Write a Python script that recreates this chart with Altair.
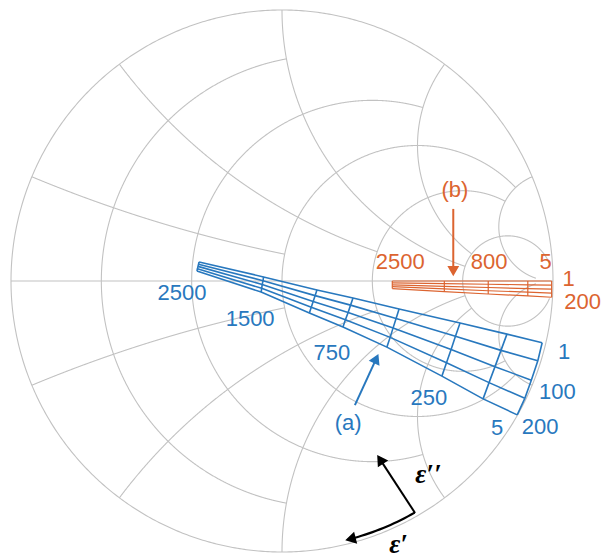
import math
import numpy as np
import pandas as pd
import altair as alt

alt.data_transformers.disable_max_rows()

# ---- Smith chart grid: constant-resistance circles / constant-reactance arcs ----
GRID_VALUES = [0.2, 0.5, 1.0, 2.0, 5.0]
GRID_LIMITS = [1.0, 2.0, 5.0, 5.0, 30.0]

# ---- Mesh (a): reflection coefficient (real, imag); rows = long lines, cols = cross lines ----
A_ROW_LABELS = ["1", "", "100", "", "200"]
A_COL_LABELS = ["2500", "1500", "", "750", "", "250", "", "5"]
A_RE = [
    [-0.306, -0.068, 0.129, 0.262, 0.432, 0.657, 0.830, 0.960],
    [-0.308, -0.070, 0.122, 0.253, 0.421, 0.640, 0.808, 0.944],
    [-0.310, -0.073, 0.115, 0.244, 0.410, 0.624, 0.786, 0.920],
    [-0.312, -0.075, 0.108, 0.234, 0.399, 0.607, 0.764, 0.896],
    [-0.314, -0.077, 0.101, 0.225, 0.387, 0.590, 0.742, 0.868],
]
A_IM = [
    [0.070, 0.015, -0.033, -0.063, -0.103, -0.155, -0.196, -0.228],
    [0.062, 0.001, -0.054, -0.089, -0.138, -0.204, -0.256, -0.294],
    [0.054, -0.013, -0.076, -0.116, -0.173, -0.253, -0.316, -0.366],
    [0.045, -0.027, -0.097, -0.143, -0.208, -0.302, -0.375, -0.433],
    [0.037, -0.041, -0.118, -0.170, -0.244, -0.351, -0.435, -0.494],
]

# ---- Mesh (b) ----
B_ROW_LABELS = ["1", "", "", "", "200"]
B_COL_LABELS = ["2500", "", "800", "", "5"]
B_RE = [
    [0.407, 0.599, 0.761, 0.907, 0.995],
    [0.407, 0.599, 0.761, 0.907, 0.995],
    [0.407, 0.599, 0.761, 0.907, 0.995],
    [0.407, 0.599, 0.761, 0.907, 0.995],
    [0.407, 0.599, 0.761, 0.907, 0.995],
]
B_IM = [
    [0.000, 0.000, 0.000, 0.000, 0.000],
    [-0.007, -0.010, -0.012, -0.014, -0.015],
    [-0.014, -0.020, -0.024, -0.028, -0.030],
    [-0.021, -0.029, -0.036, -0.041, -0.045],
    [-0.028, -0.039, -0.048, -0.055, -0.060],
]

BLUE = "#2878BE"
ORANGE = "#DC6430"
GRAY = "#c2c2c2"
FONT = "Liberation Sans"
R_PX = 271.0  # plot radius in pixels (unit circle)

X = alt.X("gx:Q", scale=alt.Scale(domain=[-1, 1], nice=False, zero=False), axis=None)
Y = alt.Y("gy:Q", scale=alt.Scale(domain=[-1, 1], nice=False, zero=False), axis=None)


def gamma(z):
    g = (z - 1) / (z + 1)
    return g.real, g.imag


# ---- build grid paths ----
grid_rows = []


def add_path(name, gx, gy, store):
    for k, (a, b) in enumerate(zip(gx, gy)):
        store.append({"path": name, "seq": k, "gx": float(a), "gy": float(b)})


t = np.linspace(0, 2 * np.pi, 721)
add_path("outer", np.cos(t), np.sin(t), grid_rows)
add_path("axis", [-1, 1], [0, 0], grid_rows)
for v, lim in zip(GRID_VALUES, GRID_LIMITS):
    xs = np.linspace(-lim, lim, 1200)
    gx, gy = gamma(v + 1j * xs)
    add_path(f"r{v}", gx, gy, grid_rows)
    rs = np.linspace(0, lim, 1200)
    for sgn in (1, -1):
        gx, gy = gamma(rs + 1j * sgn * v)
        add_path(f"x{sgn * v}", gx, gy, grid_rows)
grid_df = pd.DataFrame(grid_rows)


def mesh_paths(re, im, name):
    rows = []
    nr, nc = len(re), len(re[0])
    for i in range(nr):
        for j in range(nc):
            rows.append({"path": f"{name}r{i}", "seq": j, "gx": re[i][j], "gy": im[i][j]})
    for j in range(nc):
        for i in range(nr):
            rows.append({"path": f"{name}c{j}", "seq": i, "gx": re[i][j], "gy": im[i][j]})
    return pd.DataFrame(rows)


def lines(df, color, width):
    return alt.Chart(df).mark_line(color=color, strokeWidth=width).encode(
        x=X, y=Y, detail="path:N", order="seq:Q")


def label(gx, gy, text, color, dx=0, dy=0, size=22, align="center", font=FONT, **kw):
    return alt.Chart(pd.DataFrame({"gx": [gx], "gy": [gy], "t": [text]})).mark_text(
        color=color, dx=dx, dy=dy, fontSize=size, align=align, baseline="middle",
        font=font, **kw).encode(x=X, y=Y, text="t:N")


def arrow(points, color, width=2.0, head=70):
    """Shaft through the given points, triangle head at the last one."""
    (qx, qy), (px, py) = points[-2], points[-1]
    sx, sy = (px - qx), -(py - qy)
    ang = math.degrees(math.atan2(sx, -sy)) % 360
    n = math.hypot(sx, sy)
    back = 4.5 / R_PX
    cx, cy = px - sx / n * back, py + sy / n * back
    shaft = points[:-1] + [(cx, cy)]
    df = pd.DataFrame({"gx": [p[0] for p in shaft], "gy": [p[1] for p in shaft],
                       "seq": list(range(len(shaft)))})
    line = alt.Chart(df).mark_line(color=color, strokeWidth=width).encode(x=X, y=Y, order="seq:Q")
    tip = alt.Chart(pd.DataFrame({"gx": [cx], "gy": [cy]})).mark_point(
        shape="triangle-up", filled=True, fill=color, stroke=color, opacity=1,
        size=head, angle=ang).encode(x=X, y=Y)
    return [line, tip]


layers = [lines(grid_df, GRAY, 1.1)]
layers.append(lines(mesh_paths(A_RE, A_IM, "a"), BLUE, 1.6))
layers.append(lines(mesh_paths(B_RE, B_IM, "b"), ORANGE, 1.2))

# labels on mesh (a)
last = len(A_RE) - 1
a_bottom = {"2500": (-15, 22), "1500": (-11, 27), "750": (-11, 26), "250": (-13, 22), "5": (-20, 13)}
for j, txt in enumerate(A_COL_LABELS):
    if txt:
        dx, dy = a_bottom[txt]
        layers.append(label(A_RE[last][j], A_IM[last][j], txt, BLUE, dx, dy))
a_right = {"1": (22, 9), "100": (26, 12), "200": (23, 12)}
endc = len(A_RE[0]) - 1
for i, txt in enumerate(A_ROW_LABELS):
    if txt:
        dx, dy = a_right[txt]
        layers.append(label(A_RE[i][endc], A_IM[i][endc], txt, BLUE, dx, dy))

# labels on mesh (b)
b_top = {"2500": (8, -19), "800": (1, -19), "5": (-6, -19)}
for j, txt in enumerate(B_COL_LABELS):
    if txt:
        dx, dy = b_top[txt]
        layers.append(label(B_RE[0][j], B_IM[0][j], txt, ORANGE, dx, dy))
b_right = {"1": (17, -2), "200": (31, 5)}
endb = len(B_RE[0]) - 1
for i, txt in enumerate(B_ROW_LABELS):
    if txt:
        dx, dy = b_right[txt]
        layers.append(label(B_RE[i][endb], B_IM[i][endb], txt, ORANGE, dx, dy))

# annotation arrows
layers += arrow([(0.269, -0.458), (0.354, -0.273)], BLUE, 2.0)
layers.append(label(0.244, -0.524, "(a)", BLUE))
layers += arrow([(0.632, 0.266), (0.632, 0.022)], ORANGE, 2.0)
layers.append(label(0.638, 0.336, "(b)", ORANGE))

layers += arrow([(0.491, -0.856), (0.354, -0.646)], "black", 2.0, head=80)
ang = np.radians(np.linspace(-60.2, -76.0, 20))
layers += arrow([(0.985 * math.cos(a), 0.985 * math.sin(a)) for a in ang], "black", 2.2, head=80)
layers.append(label(0.540, -0.716, "ε′′", "black", size=27, font="Liberation Serif",
                    fontWeight="bold", fontStyle="italic"))
layers.append(label(0.430, -0.975, "ε′", "black", size=27, font="Liberation Serif",
                    fontWeight="bold", fontStyle="italic"))

chart = alt.layer(*layers).properties(
    width=542, height=542,
    autosize=alt.AutoSizeParams(type="none"),
    padding={"left": 11, "top": 10, "right": 50, "bottom": 6},
    background="white",
).configure_view(stroke=None)

chart.save("out.html", embed_options={"renderer": "svg", "actions": False})
